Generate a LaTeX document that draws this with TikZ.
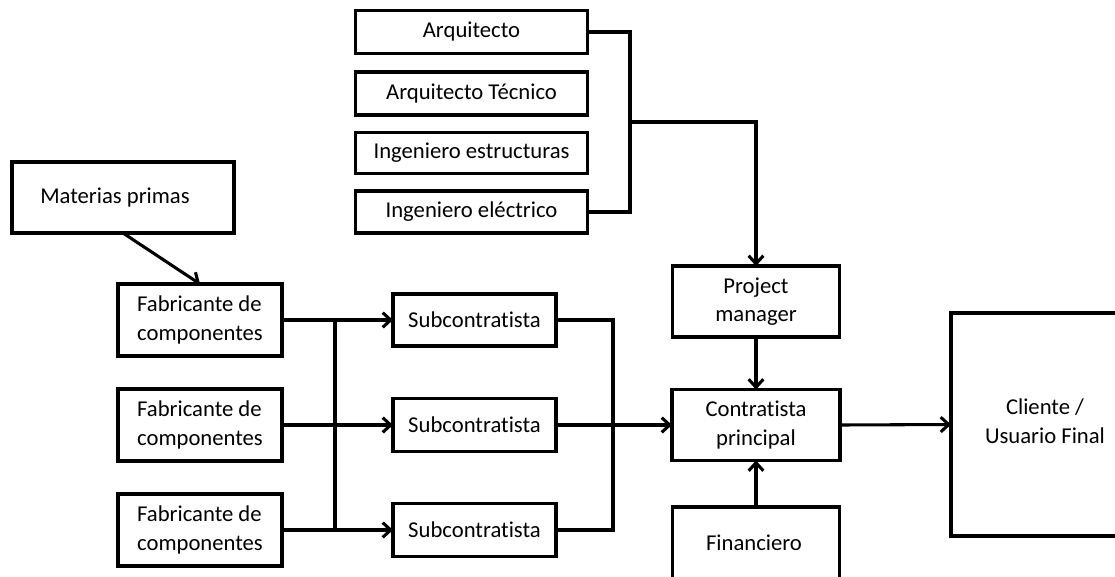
\documentclass[tikz,border=0pt]{standalone}
\usepackage{fontspec}
\setmainfont[Ligatures=NoCommon]{Carlito}
\usetikzlibrary{arrows.meta}
\begin{document}
\begin{tikzpicture}[x=0.75pt,y=-0.75pt,
  box/.style={draw, line width=2.3pt, inner sep=0pt, outer sep=0pt, align=center,
    font=\fontsize{17}{21.5}\selectfont},
  sz/.style 2 args={minimum width=#1*0.75pt, minimum height=#2*0.75pt},
  lbl/.style={font=\fontsize{17}{21.5}\selectfont, align=center},
  link/.style={line width=2.3pt},
  arr/.style={line width=2.3pt, -{Straight Barb[length=6pt,width=11pt]}}]
\useasboundingbox (0,0) rectangle (1115,576);
\clip (0,0) rectangle (1115,576);
% top boxes
\node[box, sz={232}{43}] (arq) at (471.5,32) {Arquitecto};
\node[box, sz={232}{43}] (tec) at (471.5,93.5) {Arquitecto Técnico};
\node[box, sz={232}{41}] (est) at (471.5,153) {Ingeniero estructuras};
\node[box, sz={232}{42}] (ele) at (471.5,212) {Ingeniero eléctrico};
% left
\node[box, sz={222}{71}] (mat) at (123,197.5) {};
\node[lbl] (matt) at (115,197.5) {Materias primas};
\node[box, sz={164}{72}, align=left] (fab1) at (200,320) {Fabricante de\\componentes};
\node[box, sz={164}{72}, align=left] (fab2) at (200,425) {Fabricante de\\componentes};
\node[box, sz={164}{72}, align=left] (fab3) at (200,530) {Fabricante de\\componentes};
% subcontratistas
\node[box, sz={163}{52}] (sub1) at (474.5,320) {Subcontratista};
\node[box, sz={163}{53}] (sub2) at (474.5,425) {Subcontratista};
\node[box, sz={163}{53}] (sub3) at (474.5,530) {Subcontratista};
% centre column
\node[box, sz={167}{71}] (pm) at (756,301.5) {Project\\manager};
\node[box, sz={168}{71}] (con) at (756,425) {Contratista\\principal};
\node[box, sz={167}{76}] (fin) at (756,545) {};
\node[lbl] (fint) at (754,543) {Financiero};
% client
\node[box, sz={188}{223}] (cli) at (1045,424.5) {};
\node[lbl] (clit) at (1045,421) {Cliente /\\Usuario Final};
% coordinates
\coordinate (bx) at (630,122);
\coordinate (lb) at (335,0);
\coordinate (rb) at (613,0);
% connectors
\draw[link] (arq.east) -| (bx) |- (ele.east);
\draw[arr] (bx) -| (pm.north);
\draw[arr] (mat.south) -- (fab1.north);
\draw[link] (fab1.east -| lb) -- (fab3.east -| lb);
\draw[arr] (fab1.east) -- (sub1.west);
\draw[arr] (fab2.east) -- (sub2.west);
\draw[arr] (fab3.east) -- (sub3.west);
\draw[link] (sub1.east) -| (sub1.east -| rb) -- (sub3.east -| rb) -- (sub3.east);
\draw[arr] (sub2.east) -- (con.west);
\draw[arr] (pm.south) -- (con.north);
\draw[arr] (fin.north) -- (con.south);
\draw[arr] (con.east) -- (cli.west);
\end{tikzpicture}
\end{document}
